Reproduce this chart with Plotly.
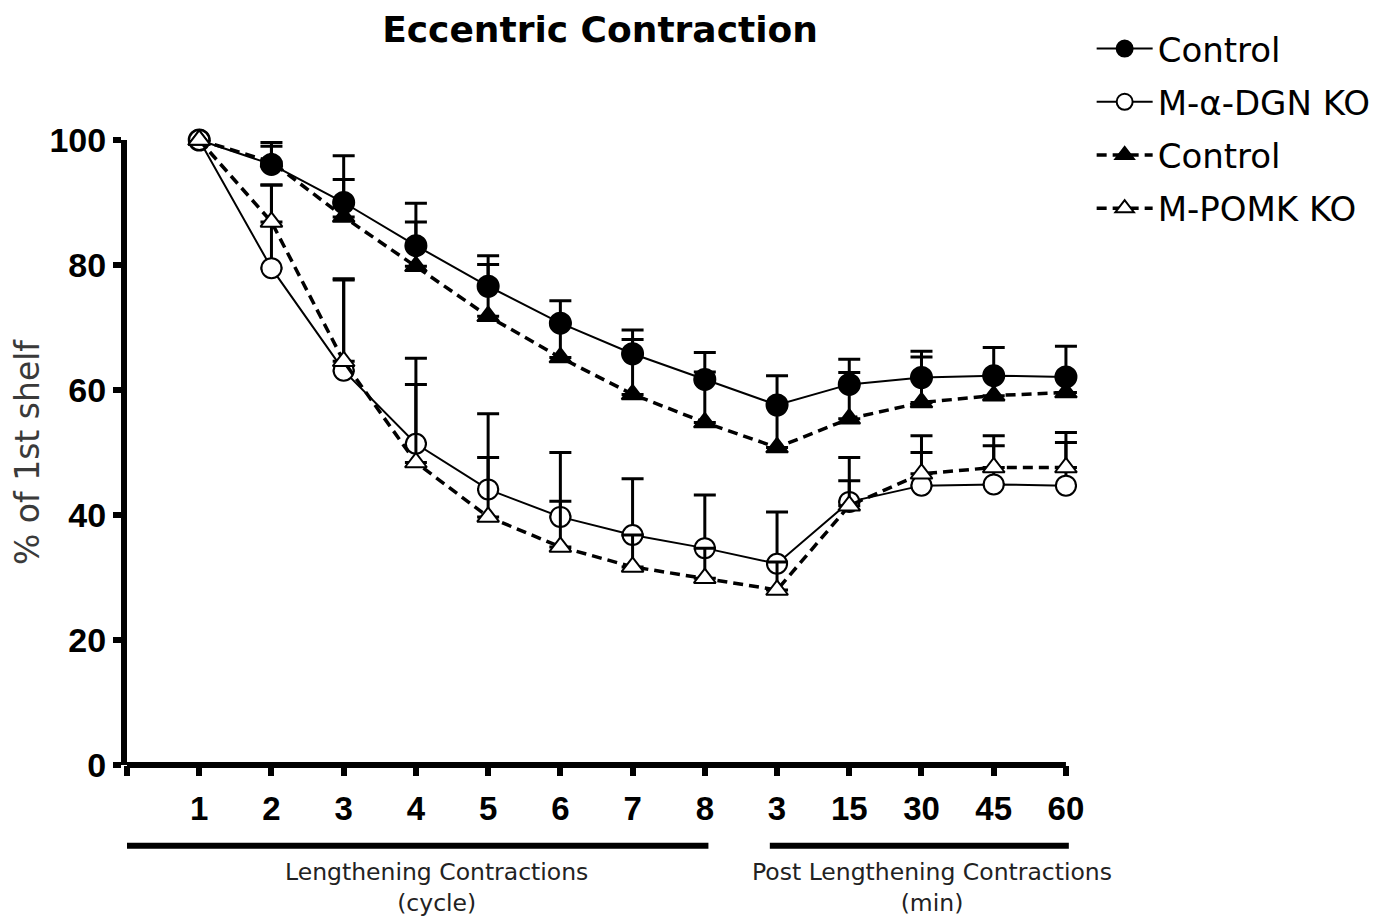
import plotly.graph_objects as go

# ---- data ----
x_pos = list(range(1, 14))
tick_labels = ["1", "2", "3", "4", "5", "6", "7", "8", "3", "15", "30", "45", "60"]

ctrl_dgn = [100, 96.1, 90.0, 83.1, 76.6, 70.7, 65.8, 61.7, 57.6, 60.9, 62.0, 62.3, 62.1]
ctrl_dgn_err = [0, 3.5, 7.5, 6.8, 4.9, 3.6, 3.8, 4.3, 4.7, 4.0, 4.2, 4.5, 4.9]

dgn_ko = [100, 79.5, 63.1, 51.4, 44.1, 39.7, 36.8, 34.7, 32.2, 42.1, 44.7, 44.9, 44.7]
dgn_ko_err = [0, 13.3, 14.5, 13.7, 12.1, 10.3, 9.0, 8.5, 8.3, 7.1, 5.3, 6.2, 6.9]

ctrl_pomk = [100, 96.5, 87.7, 79.8, 71.8, 65.2, 59.3, 54.8, 50.8, 55.4, 58.0, 59.1, 59.6]
ctrl_pomk_err = [0, 2.5, 6.0, 7.1, 8.3, 5.5, 8.8, 8.1, 6.8, 7.4, 7.3, 3.2, 2.5]

pomk_ko = [100, 86.9, 64.6, 48.4, 39.7, 34.9, 31.7, 29.9, 28.0, 41.5, 46.6, 47.6, 47.6]
pomk_ko_err = [0, 5.9, 13.2, 12.5, 9.5, 7.3, 5.1, 4.8, 4.5, 4.0, 6.1, 5.1, 5.6]

series = [
    ("Control", ctrl_dgn, ctrl_dgn_err, "circle", "black", "solid", 2, 21),
    ("M-α-DGN KO", dgn_ko, dgn_ko_err, "circle", "white", "solid", 2, 20),
    ("Control", ctrl_pomk, ctrl_pomk_err, "triangle-up", "black", "10px,6px", 3.5, 19),
    ("M-POMK KO", pomk_ko, pomk_ko_err, "triangle-up", "white", "10px,6px", 3.5, 19),
]

TXT_FONT = "DejaVu Sans, Verdana, sans-serif"
NUM_FONT = "Liberation Sans, Arial, sans-serif"

fig = go.Figure()
for i, (name, y, err, sym, fill, dash, lw, msize) in enumerate(series):
    fig.add_trace(go.Scatter(
        x=x_pos, y=y, name=name, mode="lines+markers",
        line=dict(color="black", width=lw, dash=dash),
        marker=dict(symbol=sym, size=msize, color=fill, line=dict(color="black", width=2)),
        error_y=dict(type="data", array=err, arrayminus=[0] * len(err), symmetric=False,
                     color="black", thickness=3, width=11),
        cliponaxis=False, legendgroup=f"g{i}",
    ))

# x axis line (ends at the last category) drawn as a shape so error caps are not clipped
fig.add_shape(type="line", xref="x", yref="paper", x0=0, x1=13, y0=0, y1=0,
              line=dict(color="black", width=6))
# group underline bars below the x axis
fig.add_shape(type="line", xref="x", yref="paper", x0=0, x1=8.05, y0=-0.129, y1=-0.129,
              line=dict(color="black", width=6))
fig.add_shape(type="line", xref="x", yref="paper", x0=8.9, x1=13.04, y0=-0.129, y1=-0.129,
              line=dict(color="black", width=6))
fig.add_annotation(xref="x", yref="paper", x=4.28, y=-0.146, yanchor="top",
                   text="Lengthening Contractions<br>(cycle)", showarrow=False,
                   font=dict(family=TXT_FONT, size=23.5, color="#222"))
fig.add_annotation(xref="x", yref="paper", x=11.15, y=-0.146, yanchor="top",
                   text="Post Lengthening Contractions<br>(min)", showarrow=False,
                   font=dict(family=TXT_FONT, size=23.5, color="#222"))

# the page adds an 8px body margin, so the figure is 8px smaller than the window
fig.update_layout(
    width=1380, height=909,
    margin=dict(l=119, r=301, t=130, b=152),
    paper_bgcolor="white", plot_bgcolor="white",
    title=dict(text="<b>Eccentric Contraction</b>", x=0.429, xanchor="center", y=0.977, yanchor="middle",
               font=dict(family=TXT_FONT, size=36, color="black")),
    showlegend=True,
    legend=dict(x=1.008, y=1.192, xanchor="left", yanchor="top", tracegroupgap=6, itemwidth=56,
                font=dict(family=TXT_FONT, size=34, color="black"), bgcolor="rgba(0,0,0,0)"),
    xaxis=dict(range=[0, 13.25], tickmode="array", tickvals=[0] + x_pos, ticktext=[""] + tick_labels,
               automargin=False, ticklabelstandoff=4,
               showline=False, ticks="outside", ticklen=10, tickwidth=6,
               tickcolor="black", showgrid=False, zeroline=False,
               tickfont=dict(family=NUM_FONT, size=33, color="black", weight="bold")),
    yaxis=dict(range=[0, 100], tickvals=[0, 20, 40, 60, 80, 100], automargin=False,
               showline=True, linecolor="black", linewidth=6, ticks="outside", ticklen=8, tickwidth=6,
               tickcolor="black", showgrid=False, zeroline=False,
               tickfont=dict(family=NUM_FONT, size=34, color="black", weight="bold"),
               title=dict(text="% of 1st shelf", standoff=10,
                          font=dict(family=TXT_FONT, size=33, color="#3a3a3a"))),
)

fig.write_html("out.html")
